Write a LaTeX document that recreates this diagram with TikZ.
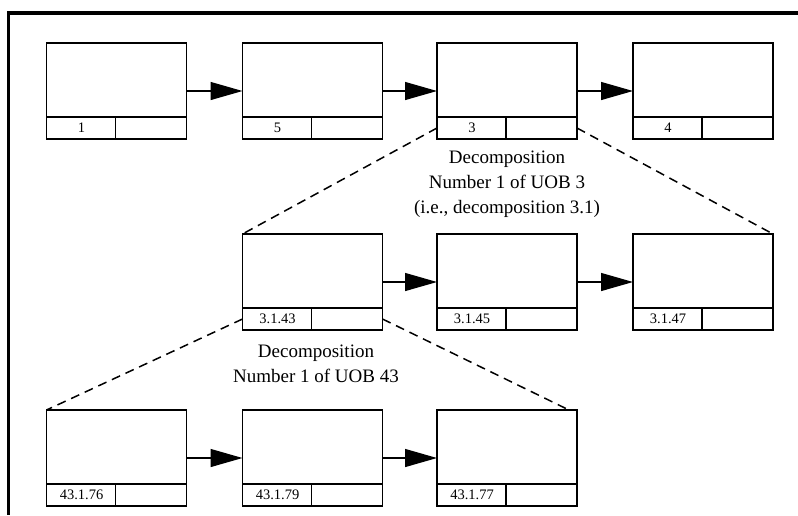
\documentclass[tikz,border=0pt]{standalone}
\usepackage{fontspec}
\setmainfont{Liberation Serif}
\usetikzlibrary{arrows.meta}

\tikzset{
  uob/.style={draw, line width=1.3pt, rectangle, minimum width=140pt,
    minimum height=96pt, inner sep=0pt, outer sep=0pt},
  cell/.style={line width=1.3pt},
  idtext/.style={font=\fontsize{14.5}{16}\selectfont, inner sep=0pt},
  flow/.style={line width=1.3pt, -{Triangle[length=32pt,width=18pt]}},
  decomp/.style={line width=1.5pt, dash pattern=on 9pt off 6pt},
  note/.style={font=\fontsize{19}{25}\selectfont, align=center, inner sep=0pt},
  frame/.style={line width=3.6pt}
}

\begin{document}
\begin{tikzpicture}[x=1pt, y=-1pt]
  \useasboundingbox (0,0) rectangle (798,515);

  % open frame along top and left
  \draw[frame] (798,13) -- (8.5,13) -- (8.5,515);

  % units of behaviour: name / centre x / centre y / identifier
  \foreach \n/\x/\y/\t in {
      a/116.5/91/1, b/312.5/91/5, c/507/91/3, d/703/91/4,
      e/312.5/282/3.1.43, f/507/282/3.1.45, g/703/282/3.1.47,
      h/116.5/458/43.1.76, i/312.5/458/43.1.79, j/507/458/43.1.77} {
    \node[uob] (\n) at (\x,\y) {};
    \coordinate (\n-l) at ([yshift=11pt]\n.south west);
    \coordinate (\n-r) at ([yshift=11pt]\n.south east);
    \coordinate (\n-cl) at ([yshift=22pt]\n.south west);
    \coordinate (\n-cr) at ([yshift=22pt]\n.south east);
    \coordinate (\n-m) at ([yshift=22pt,xshift=69pt]\n.south west);
    \coordinate (\n-mb) at ([xshift=69pt]\n.south west);
    \draw[cell] (\n-cl) -- (\n-cr);
    \draw[cell] (\n-m) -- (\n-mb);
    \node[idtext] (\n-id) at ([yshift=11pt,xshift=35pt]\n.south west) {\t};
  }

  % sequence arrows
  \draw[flow] (a) -- (b);
  \draw[flow] (b) -- (c);
  \draw[flow] (c) -- (d);
  \draw[flow] (e) -- (f);
  \draw[flow] (f) -- (g);
  \draw[flow] (h) -- (i);
  \draw[flow] (i) -- (j);

  % decomposition fans
  \draw[decomp] (c-l) -- (e.north west);
  \draw[decomp] (c-r) -- (g.north east);
  \draw[decomp] (e-l) -- (h.north west);
  \draw[decomp] (e-r) -- ([xshift=-8pt]j.north east);

  \node[note] (n1) at (507,184)
    {Decomposition\\Number 1 of UOB 3\\(i.e., decomposition 3.1)};
  \node[note] (n2) at (316,364)
    {Decomposition\\Number 1 of UOB 43};
\end{tikzpicture}
\end{document}
